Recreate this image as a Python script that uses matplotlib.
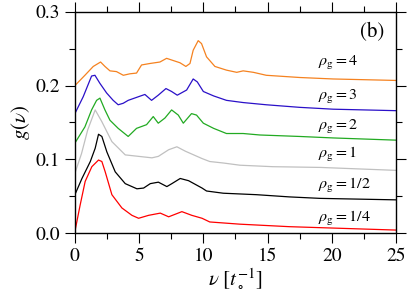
import numpy as np
import matplotlib.pyplot as plt
from matplotlib.ticker import MultipleLocator

plt.rcParams['font.family'] = 'STIXGeneral'
plt.rcParams['mathtext.fontset'] = 'stix'

# spectra, one (nu, g) list per density
nu_4 = [0, 0.78, 1.43, 2.0, 2.34, 2.73, 3.24, 3.77, 4.28, 4.8, 5.19, 5.84, 6.62, 7.14, 7.66,
        8.18, 8.64, 8.96, 9.21, 9.6, 9.86, 10.25, 10.9, 11.8, 12.6, 13.1, 13.9, 14.9, 17.5, 20.1, 25]
g_4 = [0.2, 0.214, 0.226, 0.232, 0.226, 0.22, 0.219, 0.214, 0.216, 0.217, 0.228, 0.23, 0.232, 0.237,
       0.234, 0.231, 0.226, 0.23, 0.248, 0.261, 0.257, 0.239, 0.226, 0.221, 0.218, 0.22, 0.218,
       0.214, 0.211, 0.209, 0.207]

nu_3 = [0, 0.65, 1.3, 1.56, 1.95, 2.47, 2.98, 3.37, 3.76, 4.15, 4.8, 5.45, 5.97, 6.49, 7.09, 7.53,
        7.97, 8.7, 9.21, 9.53, 10.0, 10.8, 11.8, 13.1, 14.9, 17.5, 20.1, 25]
g_3 = [0.162, 0.185, 0.213, 0.214, 0.203, 0.19, 0.18, 0.174, 0.176, 0.18, 0.184, 0.188, 0.18,
       0.187, 0.196, 0.192, 0.187, 0.194, 0.209, 0.205, 0.192, 0.186, 0.18, 0.177, 0.174, 0.1705,
       0.168, 0.166]

nu_2 = [0, 0.78, 1.3, 1.69, 1.95, 2.34, 2.73, 3.37, 4.15, 4.8, 5.58, 6.1, 6.49, 7.01, 7.53, 8.05,
        8.44, 9.08, 9.47, 10.0, 10.8, 11.8, 13.1, 14.4, 17.5, 20.1, 25]
g_2 = [0.122, 0.144, 0.167, 0.18, 0.183, 0.167, 0.153, 0.142, 0.131, 0.142, 0.147, 0.158, 0.149,
       0.156, 0.167, 0.16, 0.149, 0.162, 0.16, 0.149, 0.142, 0.135, 0.135, 0.133, 0.131, 0.129, 0.126]

nu_1 = [0, 0.52, 1.0, 1.58, 2.1, 2.88, 3.92, 4.96, 6.0, 6.5, 7.3, 7.94, 8.6, 9.9, 10.5, 11.55,
        12.85, 15.4, 19.1, 25]
g_1 = [0.081, 0.108, 0.14, 0.167, 0.151, 0.124, 0.106, 0.104, 0.102, 0.104, 0.113, 0.117, 0.111,
       0.101, 0.097, 0.095, 0.092, 0.09, 0.089, 0.085]

nu_half = [0, 0.55, 1.2, 1.58, 1.84, 2.1, 2.49, 3.14, 3.92, 4.83, 5.35, 5.87, 6.5, 7.16, 7.55, 8.2,
           8.85, 9.9, 10.25, 11.55, 14.15, 16.7, 19.1, 25]
g_half = [0.052, 0.074, 0.097, 0.115, 0.134, 0.131, 0.11, 0.083, 0.067, 0.06, 0.061, 0.067, 0.069,
          0.063, 0.067, 0.074, 0.071, 0.061, 0.057, 0.054, 0.052, 0.049, 0.047, 0.045]

nu_quarter = [0, 0.41, 0.8, 1.32, 1.84, 2.1, 2.36, 2.88, 3.66, 4.44, 4.96, 5.74, 6.65, 7.3, 8.33,
              9.1, 9.9, 10.5, 12.85, 16.7, 25]
g_quarter = [0.002, 0.038, 0.07, 0.09, 0.099, 0.097, 0.083, 0.052, 0.034, 0.024, 0.02, 0.024, 0.027,
             0.022, 0.029, 0.024, 0.02, 0.015, 0.012, 0.0086, 0.004]

labels = [r'$\rho_{\rm g} = 4$', r'$\rho_{\rm g} = 3$', r'$\rho_{\rm g} = 2$',
          r'$\rho_{\rm g} = 1$', r'$\rho_{\rm g} = 1/2$', r'$\rho_{\rm g} = 1/4$']
label_y = [0.231, 0.185, 0.144, 0.106, 0.065, 0.020]
colors = ['#f58220', '#2a10c8', '#22aa22', '#c0c0c0', 'black', '#ff0000']

series = [(nu_4, g_4), (nu_3, g_3), (nu_2, g_2), (nu_1, g_1),
          (nu_half, g_half), (nu_quarter, g_quarter)]

fig = plt.figure(figsize=(4.07, 3.05), dpi=100)
ax = fig.add_axes([0.184, 0.236, 0.789, 0.725])

for (x, y), c, lab, ly in zip(series, colors, labels, label_y):
    ax.plot(x, y, color=c, lw=0.9)
    ax.text(18.9, ly, lab, color='black', fontsize=11.5, ha='left', va='center')

ax.text(24.1, 0.273, '(b)', fontsize=15, ha='right', va='center')

ax.set_xlim(0, 25)
ax.set_ylim(0, 0.3)
ax.xaxis.set_major_locator(MultipleLocator(5))
ax.xaxis.set_minor_locator(MultipleLocator(2.5))
ax.yaxis.set_major_locator(MultipleLocator(0.1))
ax.yaxis.set_minor_locator(MultipleLocator(0.05))
ax.tick_params(which='both', direction='out', top=True, right=True, width=0.8, labelsize=14)
ax.tick_params(which='major', length=7)
ax.tick_params(which='minor', length=4)
ax.yaxis.set_major_formatter(plt.FuncFormatter(lambda v, p: f'{v:.1f}'))
for s in ax.spines.values():
    s.set_linewidth(1.0)

ax.set_xlabel(r'$\nu\ [t_\circ^{-1}]$', fontsize=15, labelpad=1)
ax.set_ylabel(r'$g(\nu)$', fontsize=15, labelpad=3)

fig.savefig('out.png', dpi=100)
